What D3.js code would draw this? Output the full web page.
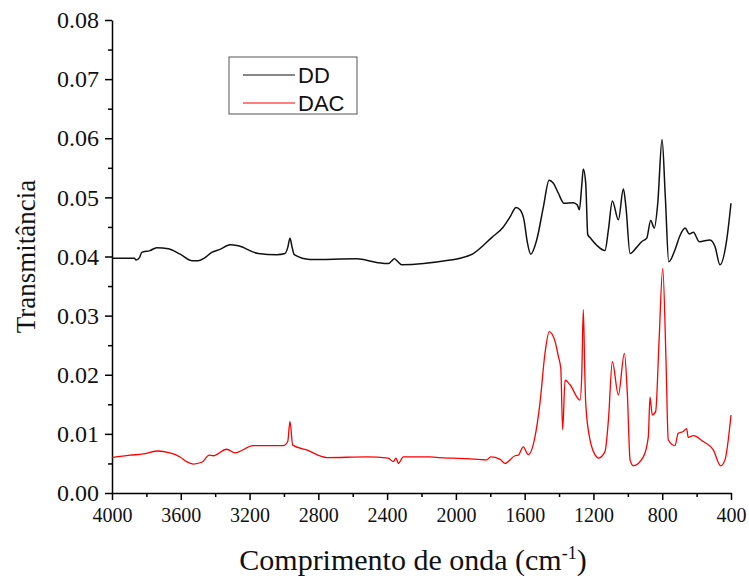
<!DOCTYPE html>
<html>
<head>
<meta charset="utf-8">
<script src="https://cdn.jsdelivr.net/npm/d3@7"></script>
<style>
  body { margin: 0; background: #fff; }
</style>
</head>
<body>
<svg id="chart" width="749" height="576"></svg>
<script>
// DD spectrum (wavenumber, transmittance)
const ddWn = [4000, 3870, 3860, 3840, 3827, 3779, 3740, 3672, 3604, 3536, 3498, 3459, 3420, 3372, 3314, 3265, 3149, 3042, 2994, 2978, 2965, 2952, 2940, 2848, 2577, 2461, 2393, 2375, 2358, 2340, 2315, 2034, 1976, 1899, 1792, 1724, 1685, 1650, 1627, 1604, 1585, 1565, 1530, 1491, 1458, 1433, 1404, 1371, 1317, 1294, 1282, 1268, 1259, 1245, 1233, 1220, 1181, 1133, 1113, 1090, 1055, 1026, 1011, 987, 950, 920, 890, 867, 846, 826, 801, 782, 762, 726, 697, 667, 642, 619, 584, 522, 493, 464, 425, 400];
const ddVal = [0.0397, 0.0397, 0.0394, 0.0398, 0.0407, 0.0410, 0.0415, 0.0413, 0.0404, 0.0393, 0.0393, 0.0398, 0.0407, 0.0412, 0.0420, 0.0418, 0.0405, 0.0403, 0.0405, 0.0415, 0.0431, 0.0415, 0.0403, 0.0395, 0.0396, 0.0390, 0.0388, 0.0392, 0.0396, 0.0392, 0.0386, 0.0394, 0.0397, 0.0405, 0.0432, 0.0450, 0.0467, 0.0483, 0.0479, 0.0462, 0.0425, 0.0404, 0.0428, 0.0484, 0.0529, 0.0524, 0.0507, 0.0490, 0.0491, 0.0487, 0.0479, 0.0520, 0.0548, 0.0524, 0.0437, 0.0432, 0.0419, 0.0410, 0.0445, 0.0494, 0.0462, 0.0514, 0.0484, 0.0405, 0.0415, 0.0425, 0.0431, 0.0461, 0.0448, 0.0490, 0.0598, 0.0501, 0.0391, 0.0411, 0.0435, 0.0448, 0.0438, 0.0441, 0.0425, 0.0428, 0.0417, 0.0386, 0.0428, 0.0490];

// DAC spectrum
const dacWn = [4000, 3895, 3818, 3740, 3663, 3604, 3566, 3527, 3478, 3434, 3411, 3333, 3285, 3178, 3004, 2978, 2965, 2949, 2868, 2751, 2519, 2393, 2364, 2348, 2335, 2306, 2151, 2092, 1937, 1821, 1798, 1743, 1714, 1656, 1637, 1608, 1579, 1540, 1511, 1482, 1457, 1423, 1404, 1390, 1379, 1365, 1336, 1278, 1268, 1259, 1250, 1245, 1220, 1181, 1171, 1133, 1113, 1090, 1055, 1020, 1003, 987, 968, 910, 881, 871, 858, 838, 819, 797, 778, 765, 726, 707, 678, 658, 649, 619, 561, 503, 460, 435, 400];
const dacVal = [0.0060, 0.0064, 0.0066, 0.0071, 0.0068, 0.0061, 0.0053, 0.0049, 0.0052, 0.0064, 0.0063, 0.0074, 0.0068, 0.0080, 0.0080, 0.0087, 0.0121, 0.0081, 0.0073, 0.0060, 0.0061, 0.0059, 0.0053, 0.0059, 0.0050, 0.0061, 0.0061, 0.0060, 0.0058, 0.0056, 0.0061, 0.0057, 0.0050, 0.0063, 0.0064, 0.0078, 0.0065, 0.0095, 0.0152, 0.0236, 0.0273, 0.0256, 0.0231, 0.0211, 0.0107, 0.0191, 0.0183, 0.0157, 0.0200, 0.0310, 0.0200, 0.0152, 0.0090, 0.0061, 0.0059, 0.0070, 0.0123, 0.0222, 0.0166, 0.0236, 0.0169, 0.0056, 0.0046, 0.0061, 0.0095, 0.0162, 0.0132, 0.0138, 0.0253, 0.0380, 0.0225, 0.0090, 0.0080, 0.0101, 0.0104, 0.0109, 0.0094, 0.0097, 0.0087, 0.0073, 0.0046, 0.0056, 0.0132];

const xTicks = [4000, 3600, 3200, 2800, 2400, 2000, 1600, 1200, 800, 400];
const yTicks = [0, 0.01, 0.02, 0.03, 0.04, 0.05, 0.06, 0.07, 0.08];
const seriesNames = ["DD", "DAC"];
const colors = ["#111111", "#ff0000"];

const svg = d3.select("#chart");
const margin = {top: 20, left: 112, bottom: 83, right: 18};
const width = +svg.attr("width");
const height = +svg.attr("height");

const x = d3.scaleLinear()
    .domain([4000, 400])
    .range([margin.left, width - margin.right]);

const y = d3.scaleLinear()
    .domain([0, 0.08])
    .range([height - margin.bottom, margin.top]);

const serif = "'Liberation Serif', 'Times New Roman', serif";

// minor ticks
svg.append("g")
    .attr("transform", `translate(0,${y(0)})`)
    .call(d3.axisBottom(x).tickValues(d3.range(3800, 400, -400)).tickSize(4).tickFormat(""))
    .call(g => g.select(".domain").remove())
    .selectAll("line").attr("stroke-width", 1.5);

svg.append("g")
    .attr("transform", `translate(${x(4000)},0)`)
    .call(d3.axisLeft(y).tickValues(d3.range(0.005, 0.08, 0.01)).tickSize(4).tickFormat(""))
    .call(g => g.select(".domain").remove())
    .selectAll("line").attr("stroke-width", 1.5);

const xAxis = svg.append("g")
    .attr("transform", `translate(0,${y(0)})`)
    .call(d3.axisBottom(x).tickValues(xTicks).tickSize(7).tickSizeOuter(0).tickPadding(8).tickFormat(d3.format("d")));

xAxis.selectAll("text")
    .attr("font-family", serif)
    .attr("font-size", 20)
    .attr("fill", "#111");

const yAxis = svg.append("g")
    .attr("transform", `translate(${x(4000)},0)`)
    .call(d3.axisLeft(y).tickValues(yTicks).tickSize(7).tickSizeOuter(0).tickPadding(6).tickFormat(d3.format(".2f")));

yAxis.selectAll("text")
    .attr("font-family", serif)
    .attr("font-size", 24)
    .attr("fill", "#111");

svg.selectAll(".domain").attr("stroke-width", 1.5);
svg.selectAll(".tick line").attr("stroke-width", 1.5);

// axis titles
const xTitle = svg.append("text")
    .attr("x", 413)
    .attr("y", 570)
    .attr("text-anchor", "middle")
    .attr("font-family", serif)
    .attr("font-size", 30)
    .attr("fill", "#111");
xTitle.append("tspan").text("Comprimento de onda (cm");
xTitle.append("tspan").attr("dy", -11).attr("font-size", 18).text("-1");
xTitle.append("tspan").attr("dy", 11).text(")");

svg.append("text")
    .attr("transform", `translate(35,${(y(0) + y(0.08)) / 2}) rotate(-90)`)
    .attr("text-anchor", "middle")
    .attr("font-family", serif)
    .attr("font-size", 27)
    .attr("fill", "#111")
    .text("Transmitância");

// spectra
const line = d3.line()
    .x(d => x(d[0]))
    .y(d => y(d[1]))
    .curve(d3.curveMonotoneX);

const series = [
    d3.zip(ddWn, ddVal),
    d3.zip(dacWn, dacVal)
];

svg.selectAll("path.spectrum")
    .data(series)
    .enter()
    .append("path")
    .attr("class", "spectrum")
    .attr("fill", "none")
    .attr("stroke", (d, i) => colors[i])
    .attr("stroke-width", (d, i) => i == 0 ? 1.5 : 1.3)
    .attr("stroke-linejoin", "round")
    .attr("d", line);

// legend
const legend = svg.append("g")
    .attr("transform", "translate(229,57)");

legend.append("rect")
    .attr("width", 128)
    .attr("height", 57)
    .attr("fill", "#fff")
    .attr("stroke", "#555")
    .attr("stroke-width", 1);

const item = legend.selectAll(".legend")
    .data(seriesNames)
    .enter()
    .append("g")
    .attr("class", "legend")
    .attr("transform", (d, i) => `translate(0,${18 + i * 28})`);

item.append("line")
    .attr("x1", 14)
    .attr("x2", 66)
    .attr("stroke", (d, i) => colors[i])
    .attr("stroke-width", 1.2);

item.append("text")
    .attr("x", 69)
    .attr("y", 8)
    .attr("font-family", "'Liberation Sans', Arial, sans-serif")
    .attr("font-size", 22)
    .attr("fill", "#111")
    .text(d => d);
</script>
</body>
</html>
